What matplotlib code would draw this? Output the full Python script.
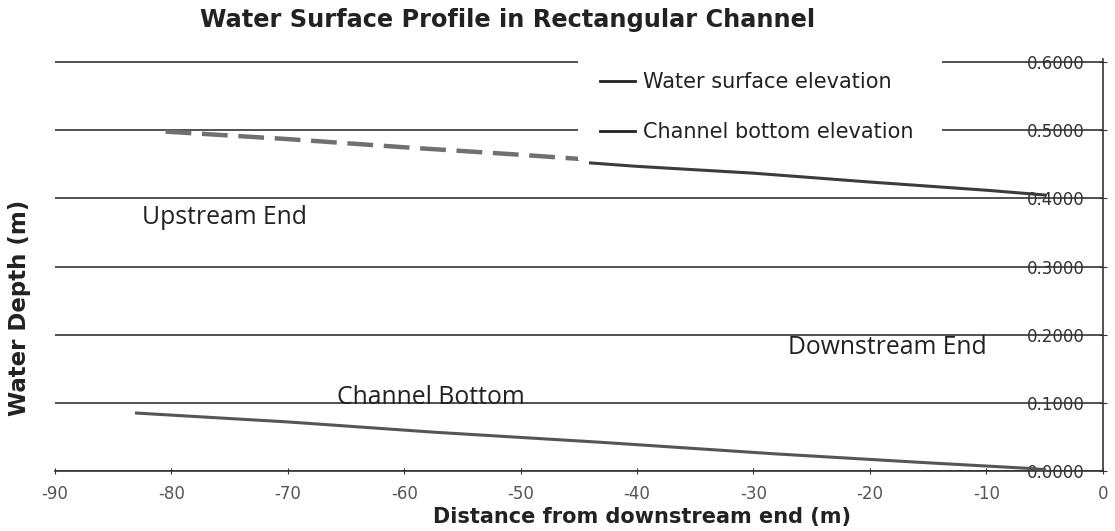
import matplotlib
matplotlib.use("Agg")
import matplotlib.pyplot as plt
from matplotlib.lines import Line2D
from matplotlib.patches import Rectangle

# water surface, upstream part (drawn dashed grey) and downstream part (solid)
ws_up_x = [-80.5, -70, -60, -50, -45]
ws_up_y = [0.498, 0.487, 0.475, 0.464, 0.458]
ws_dn_x = [-44, -40, -30, -20, -10, -5]
ws_dn_y = [0.452, 0.447, 0.437, 0.424, 0.412, 0.405]

# channel bottom
bed_x = [-83, -70, -57.5, -43, -28, -15, -6.5, -5]
bed_y = [0.085, 0.072, 0.057, 0.042, 0.025, 0.012, 0.004, 0.002]

xticks = [-90, -80, -70, -60, -50, -40, -30, -20, -10, 0]
xtick_labels = ["-90", "-80", "-70", "-60", "-50", "-40", "-30", "-20", "-10", "0"]
yticks = [0.0, 0.1, 0.2, 0.3, 0.4, 0.5, 0.6]
ytick_labels = ["0.0000", "0.1000", "0.2000", "0.3000", "0.4000", "0.5000", "0.6000"]

fig = plt.figure(figsize=(11.15, 5.31), dpi=100)
ax = fig.add_axes([0.0493, 0.113, 0.9397, 0.7765])
ax.set_xlim(-90, 0)
ax.set_ylim(0, 0.605)

dark = "#333333"
ax.set_yticks(yticks)
ax.set_yticklabels(ytick_labels)
ax.set_xticks(xticks)
ax.set_xticklabels(xtick_labels)
ax.yaxis.tick_right()
ax.grid(axis="y", color=dark, lw=1.2)
ax.grid(axis="x", visible=False)
ax.set_axisbelow(True)
for s in ["left", "top"]:
    ax.spines[s].set_visible(False)
ax.spines["right"].set_color(dark)
ax.spines["right"].set_linewidth(1.2)
ax.spines["bottom"].set_color(dark)
ax.spines["bottom"].set_linewidth(1.2)
ax.tick_params(axis="y", direction="inout", length=6, pad=-16, labelsize=12,
               labelcolor=dark, color=dark)
for lab in ax.get_yticklabels():
    lab.set_horizontalalignment("right")
ax.tick_params(axis="x", direction="inout", length=4, pad=8, labelsize=12,
               labelcolor="#555555", color=dark)

ax.plot(ws_up_x, ws_up_y, color="#707070", lw=3.2, dashes=(5.8, 2.4), zorder=3)
ax.plot(ws_dn_x, ws_dn_y, color="#3c3c3c", lw=2.2, zorder=3)
ax.plot(bed_x, bed_y, color="#555555", lw=2.2, zorder=3)

# white legend area that hides the top gridlines
ax.add_patch(Rectangle((-45.1, 0.457), 31.3, 0.16, facecolor="white",
                       edgecolor="none", zorder=4, clip_on=False))

handles = [Line2D([], [], color="#222222", lw=2),
           Line2D([], [], color="#222222", lw=2)]
fig.legend(handles, ["Water surface elevation", "Channel bottom elevation"],
           loc="upper left", bbox_to_anchor=(600 / 1115, 1 - 72 / 531),
           frameon=False, borderpad=0, borderaxespad=0, fontsize=15,
           labelspacing=1.45, handlelength=1.7, handletextpad=0.35,
           labelcolor="#222222")

ann = dict(family="Open Sans", fontsize=17.8, color="#222222", va="baseline", zorder=5)
ax.text(-82.5, 0.362, "Upstream End", **ann)
ax.text(-27.0, 0.171, "Downstream End", **ann)
ax.text(-65.8, 0.099, "Channel Bottom", **ann)

fig.text(508 / 1115, 1 - 20 / 531, "Water Surface Profile in Rectangular Channel",
         ha="center", va="center", fontsize=17.3, fontweight="bold", color="#222222")
fig.text(642 / 1115, 1 - 517 / 531, "Distance from downstream end (m)",
         ha="center", va="center", fontsize=15, fontweight="bold", color="#222222")
fig.text(20 / 1115, 1 - 308 / 531, "Water Depth (m)", rotation=90,
         ha="center", va="center", fontsize=16.5, fontweight="bold", color="#222222")

fig.savefig("out.png", dpi=100)
